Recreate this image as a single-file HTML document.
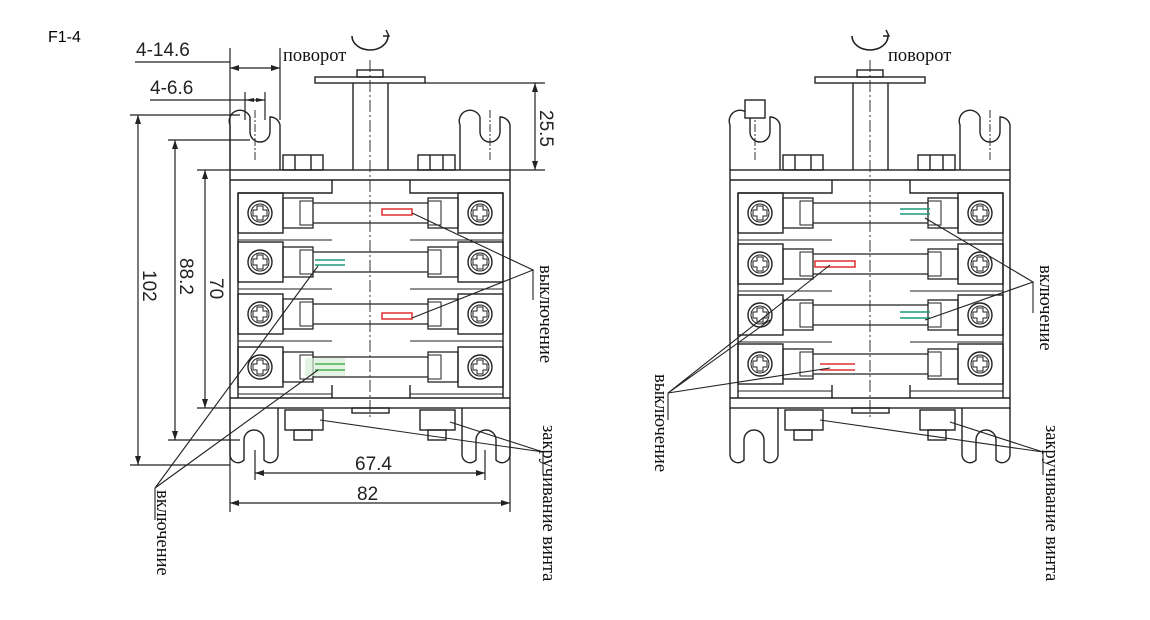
<!DOCTYPE html>
<html><head><meta charset="utf-8"><style>
html,body{margin:0;padding:0;background:#fff;}
svg{display:block}
.t{font-family:"Liberation Serif","DejaVu Serif",serif;font-size:18.5px;fill:#111}
.d{font-family:"Liberation Sans",sans-serif;font-size:19px;fill:#222}
</style></head><body>
<svg width="1150" height="620" viewBox="0 0 1150 620" xmlns="http://www.w3.org/2000/svg">
<defs>
<g id="row">
  <rect x="238" y="-20" width="45" height="40" fill="none" stroke="#222" stroke-width="1.4"/>
  <circle cx="260" cy="0" r="12" fill="none" stroke="#222" stroke-width="1.4"/>
  <circle cx="260" cy="0" r="9" fill="none" stroke="#222" stroke-width="1"/>
  <path d="M257 -7h6v4h4v6h-4v4h-6v-4h-4v-6h4z" fill="none" stroke="#222"/>
  <rect x="283" y="-15" width="30" height="30" fill="none" stroke="#222" stroke-width="1.3"/>
  <rect x="300" y="-12" width="13" height="24" fill="none" stroke="#222"/>
  <line x1="313" y1="-10" x2="428" y2="-10" stroke="#222" stroke-width="1.3"/>
  <line x1="313" y1="10" x2="428" y2="10" stroke="#222" stroke-width="1.3"/>
  <rect x="458" y="-20" width="45" height="40" fill="none" stroke="#222" stroke-width="1.4"/>
  <circle cx="480" cy="0" r="12" fill="none" stroke="#222" stroke-width="1.4"/>
  <circle cx="480" cy="0" r="9" fill="none" stroke="#222" stroke-width="1"/>
  <path d="M477 -7h6v4h4v6h-4v4h-6v-4h-4v-6h4z" fill="none" stroke="#222"/>
  <rect x="428" y="-15" width="30" height="30" fill="none" stroke="#222" stroke-width="1.3"/>
  <rect x="428" y="-12" width="13" height="24" fill="none" stroke="#222"/>
  <line x1="238" y1="27" x2="332" y2="27" stroke="#222"/>
  <line x1="410" y1="27" x2="503" y2="27" stroke="#222"/>
</g>
<g id="sw" fill="none" stroke="#222" stroke-width="1.4">
  <path d="M352 36 A18 14 0 0 0 388 36" stroke-width="1.6"/>
  <path d="M386 30 l3 6 l-6 0" />
  <rect x="357" y="70" width="26" height="7"/>
  <rect x="315" y="77" width="110" height="6"/>
  <line x1="353" y1="83" x2="353" y2="170"/>
  <line x1="388" y1="83" x2="388" y2="170"/>
  <path d="M230 170 V125 a10 10 0 0 1 20 -8 v15 a10 10 0 0 0 10 10 a10 10 0 0 0 10 -10 v-15 a10 10 0 0 1 10 8 V170"/>
  <path d="M460 170 V125 a10 10 0 0 1 20 -8 v15 a10 10 0 0 0 10 10 a10 10 0 0 0 10 -10 v-15 a10 10 0 0 1 10 8 V170"/>
  <rect x="283" y="155" width="40" height="15"/><line x1="295" y1="155" x2="295" y2="170"/><line x1="311" y1="155" x2="311" y2="170"/>
  <rect x="418" y="155" width="37" height="15"/><line x1="430" y1="155" x2="430" y2="170"/><line x1="443" y1="155" x2="443" y2="170"/>
  <rect x="230" y="170" width="280" height="238"/>
  <line x1="230" y1="180" x2="510" y2="180"/>
  <path d="M238 193 V398 M503 193 V398"/>
  <path d="M238 193 H332 V180 M410 180 V193 H503"/>
  <line x1="230" y1="398" x2="510" y2="398"/>
  <path d="M332 398 V385 M410 398 V385"/>
  <rect x="352" y="408" width="37" height="5"/>
  <path d="M230 408 V455 a8 8 0 0 0 14 5 v-20 a10 10 0 0 1 20 0 v20 a8 8 0 0 0 14 -5 V408"/>
  <path d="M462 408 V455 a8 8 0 0 0 14 5 v-20 a10 10 0 0 1 20 0 v20 a8 8 0 0 0 14 -5 V408"/>
  <rect x="285" y="410" width="38" height="20"/><rect x="294" y="430" width="18" height="10"/>
  <rect x="420" y="410" width="35" height="20"/><rect x="428" y="430" width="18" height="10"/>
</g>
</defs>

<text x="48" y="42" style="font-family:'Liberation Sans',sans-serif;font-size:16px;fill:#000">F1-4</text>

<use href="#sw"/>
<g><use href="#row" y="213"/><use href="#row" y="262"/><use href="#row" y="314"/><use href="#row" y="367"/></g>
<line x1="370" y1="60" x2="370" y2="418" stroke="#333" stroke-width="1" stroke-dasharray="12,3,2,3"/>
<line x1="255" y1="110" x2="255" y2="160" stroke="#333" stroke-dasharray="8,2,2,2"/>
<line x1="490" y1="110" x2="490" y2="160" stroke="#333" stroke-dasharray="8,2,2,2"/>
<rect x="382" y="209" width="30" height="6" fill="none" stroke="#e03030" stroke-width="1.5"/>
<path d="M315 260h30M315 265h30" stroke="#1a9c7a" stroke-width="1.6"/>
<rect x="382" y="313" width="30" height="6" fill="none" stroke="#e03030" stroke-width="1.5"/>
<rect x="305" y="358" width="40" height="18" fill="#d8efd8" opacity=".7"/>
<path d="M315 364h30M315 370h30" stroke="#4caf50" stroke-width="1.4"/>

<g stroke="#222" stroke-width="1.2" fill="none">
<line x1="135" y1="62" x2="230" y2="62"/><line x1="230" y1="48" x2="230" y2="170"/><line x1="280" y1="48" x2="280" y2="120"/>
<line x1="230" y1="68" x2="280" y2="68"/>
<line x1="150" y1="100" x2="265" y2="100"/><line x1="245" y1="92" x2="245" y2="120"/><line x1="265" y1="92" x2="265" y2="120"/>
<line x1="130" y1="115" x2="240" y2="115"/><line x1="138" y1="115" x2="138" y2="465"/><line x1="130" y1="465" x2="230" y2="465"/>
<line x1="168" y1="140" x2="250" y2="140"/><line x1="175" y1="140" x2="175" y2="440"/><line x1="168" y1="440" x2="240" y2="440"/>
<line x1="197" y1="170" x2="230" y2="170"/><line x1="205" y1="170" x2="205" y2="408"/><line x1="197" y1="408" x2="230" y2="408"/>
<line x1="425" y1="83" x2="545" y2="83"/><line x1="510" y1="170" x2="545" y2="170"/><line x1="535" y1="83" x2="535" y2="170"/>
<line x1="255" y1="450" x2="255" y2="480"/><line x1="485" y1="450" x2="485" y2="480"/><line x1="255" y1="473" x2="485" y2="473"/>
<line x1="230" y1="408" x2="230" y2="512"/><line x1="510" y1="408" x2="510" y2="512"/><line x1="230" y1="503" x2="510" y2="503"/>
</g>
<g fill="#222">
<path d="M138 115l-3 9h6z M138 465l-3 -9h6z M175 140l-3 9h6z M175 440l-3 -9h6z M205 170l-3 9h6z M205 408l-3 -9h6z M535 83l-3 9h6z M535 170l-3 -9h6z"/>
<path d="M255 473l9 -3v6z M485 473l-9 -3v6z M230 503l9 -3v6z M510 503l-9 -3v6z M230 68l9 -3v6z M280 68l-9 -3v6z M245 100l9 -2v4z M265 100l-9 -2v4z"/>
</g>
<text class="d" x="136" y="56">4-14.6</text>
<text class="d" x="150" y="94">4-6.6</text>
<text class="d" x="355" y="470">67.4</text>
<text class="d" x="357" y="500">82</text>
<text class="d" transform="translate(143,270) rotate(90)">102</text>
<text class="d" transform="translate(180,258) rotate(90)">88.2</text>
<text class="d" transform="translate(210,278) rotate(90)">70</text>
<text class="d" transform="translate(540,110) rotate(90)">25.5</text>

<g stroke="#222" stroke-width="1.1" fill="none">
<path d="M412 213 L533 270 L412 318"/><line x1="533" y1="270" x2="533" y2="300"/>
<path d="M318 266 L155 488 L318 370"/><line x1="155" y1="488" x2="155" y2="520"/>
<path d="M320 420 L543 452 L450 422"/><line x1="543" y1="452" x2="543" y2="475"/>
</g>
<text class="t" x="283" y="61">поворот</text>
<text class="t" transform="translate(540,265) rotate(90)">выключение</text>
<text class="t" transform="translate(157,490) rotate(90)">включение</text>
<text class="t" transform="translate(543,425) rotate(90)">закручивание винта</text>

<g transform="translate(500,0)">
<use href="#sw"/>
<use href="#row" y="213"/><use href="#row" y="264"/><use href="#row" y="315"/><use href="#row" y="364"/>
<line x1="370" y1="60" x2="370" y2="418" stroke="#333" stroke-width="1" stroke-dasharray="12,3,2,3"/>
<line x1="255" y1="110" x2="255" y2="160" stroke="#333" stroke-dasharray="8,2,2,2"/>
<line x1="490" y1="110" x2="490" y2="160" stroke="#333" stroke-dasharray="8,2,2,2"/>
<rect x="245" y="100" width="20" height="18" fill="#fff" stroke="#222" stroke-width="1.4"/>
<path d="M400 209h30M400 214h30" stroke="#1a9c7a" stroke-width="1.6"/>
<rect x="315" y="261" width="40" height="6" fill="none" stroke="#e03030" stroke-width="1.5"/>
<path d="M400 312h30M400 318h30" stroke="#1a9c7a" stroke-width="1.6"/>
<path d="M320 364h35M320 370h35" stroke="#e03030" stroke-width="1.5"/>
</g>
<g stroke="#222" stroke-width="1.1" fill="none">
<path d="M925 218 L1033 282 L925 320"/><line x1="1033" y1="282" x2="1033" y2="313"/>
<path d="M830 265 L668 393 L770 320 M668 393 L830 368"/><line x1="668" y1="393" x2="668" y2="420"/>
<path d="M820 420 L1043 452 L950 422"/><line x1="1043" y1="452" x2="1043" y2="475"/>
</g>
<text class="t" x="888" y="61">поворот</text>
<text class="t" transform="translate(1040,265) rotate(90)">включение</text>
<text class="t" transform="translate(655,374) rotate(90)">выключение</text>
<text class="t" transform="translate(1046,425) rotate(90)">закручивание винта</text>
</svg>
</body></html>
